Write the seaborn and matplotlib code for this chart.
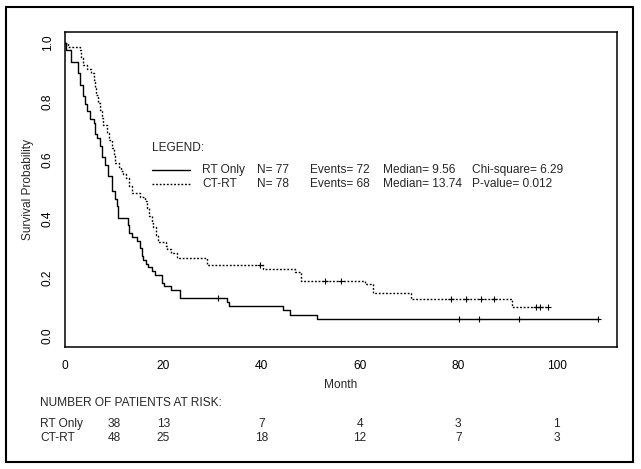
import numpy as np
import pandas as pd
import matplotlib
matplotlib.use("Agg")
import matplotlib.pyplot as plt
from matplotlib.patches import Rectangle
from matplotlib.lines import Line2D
import seaborn as sns

# ---------------- data ----------------
rt_time = [0, 0.2, 1.2, 2.6, 3.0, 3.6, 4.1, 4.4, 5.1, 5.8, 6.1, 6.6, 7.1, 7.5, 8.1, 8.8,
           9.6, 10.2, 10.5, 10.8, 12.8, 13.0, 13.6, 14.6, 15.3, 15.6, 15.9, 16.5, 16.9,
           17.6, 18.3, 19.8, 20.1, 21.5, 23.4, 32.9, 33.3, 44.3, 45.7, 51.2]
rt_surv = [1.0, 0.974, 0.935, 0.896, 0.857, 0.818, 0.792, 0.766, 0.740, 0.727, 0.688,
           0.675, 0.649, 0.610, 0.584, 0.545, 0.494, 0.468, 0.442, 0.403, 0.377, 0.351,
           0.338, 0.325, 0.299, 0.273, 0.260, 0.247, 0.234, 0.221, 0.208, 0.182, 0.169,
           0.156, 0.130, 0.117, 0.101, 0.088, 0.073, 0.058]
rt_end = 108.5
rt_censor = [31.2, 80.1, 84.2, 92.3, 108.5]

ct_time = [0, 0.7, 3.0, 3.3, 3.7, 4.4, 5.2, 5.8, 6.1, 6.4, 6.8, 7.1, 7.5, 7.8, 8.6, 9.0,
           9.5, 9.9, 10.2, 10.9, 11.4, 11.9, 12.5, 13.0, 13.7, 15.3, 16.3, 16.6, 17.0,
           17.6, 18.0, 18.5, 19.0, 20.5, 20.7, 21.5, 22.8, 28.8, 40.3, 46.8, 48.0, 61.0,
           62.7, 70.4, 91.0]
ct_surv = [1.0, 0.987, 0.974, 0.949, 0.923, 0.910, 0.897, 0.872, 0.846, 0.820, 0.795,
           0.769, 0.744, 0.718, 0.692, 0.667, 0.641, 0.615, 0.590, 0.577, 0.564, 0.551,
           0.538, 0.513, 0.487, 0.474, 0.461, 0.436, 0.410, 0.385, 0.372, 0.346, 0.321,
           0.308, 0.295, 0.282, 0.265, 0.243, 0.230, 0.217, 0.189, 0.176, 0.145, 0.127,
           0.098]
ct_end = 98.3
ct_censor = [39.7, 52.9, 56.1, 78.5, 81.5, 84.6, 87.2, 95.9, 96.6, 98.3]

groups = ["RT Only", "CT-RT"]
legend_n = ["N= 77", "N= 78"]
legend_events = ["Events= 72", "Events= 68"]
legend_median = ["Median= 9.56", "Median= 13.74"]
legend_stat = ["Chi-square= 6.29", "P-value= 0.012"]

risk_months = [10, 20, 40, 60, 80, 100]
rt_risk = [38, 13, 7, 4, 3, 1]
ct_risk = [48, 25, 18, 12, 7, 3]

x_ticks = [0, 20, 40, 60, 80, 100]
y_ticks = [0.0, 0.2, 0.4, 0.6, 0.8, 1.0]

# ---------------- build tables ----------------
def curve(times, surv, end, name):
    t = list(times) + [end]
    s = list(surv) + [surv[-1]]
    return pd.DataFrame({"month": t, "surv": s, "group": name})

def censor_df(times, steps, surv, cens, name):
    idx = np.searchsorted(np.array(steps), np.array(cens), side="right") - 1
    return pd.DataFrame({"month": cens, "surv": np.array(surv)[idx], "group": name})

lines = pd.concat([curve(rt_time, rt_surv, rt_end, groups[0]),
                   curve(ct_time, ct_surv, ct_end, groups[1])], ignore_index=True)
marks = pd.concat([censor_df(None, rt_time, rt_surv, rt_censor, groups[0]),
                   censor_df(None, ct_time, ct_surv, ct_censor, groups[1])], ignore_index=True)

# ---------------- style ----------------
sns.set_style("white")
plt.rcParams["font.family"] = ["Liberation Sans", "DejaVu Sans"]
plt.rcParams["font.size"] = 8.6

W, H = 641, 469
fig = plt.figure(figsize=(W / 100, H / 100), dpi=100)
fx = lambda px: px / W
fy = lambda py: 1 - py / H

ax_l, ax_r, ax_t, ax_b = 65, 617, 32, 347
ax = fig.add_axes([fx(ax_l), fy(ax_b), (ax_r - ax_l) / W, (ax_b - ax_t) / H])

palette = {groups[0]: "black", groups[1]: "black"}
dashes = {groups[0]: "", groups[1]: (1.3, 1.3)}
sns.lineplot(data=lines, x="month", y="surv", hue="group", style="group",
             palette=palette, dashes=dashes, estimator=None, sort=False,
             drawstyle="steps-post", linewidth=1.0, legend=False, ax=ax)
sns.scatterplot(data=marks, x="month", y="surv", marker="+", color="black",
                s=22, linewidth=0.8, legend=False, ax=ax)

ax.set_xlim(0, 112.3)
ax.set_ylim(-0.0375, 1.0365)
ax.set_xticks(x_ticks)
ax.set_xticklabels([str(v) for v in x_ticks])
ax.set_yticks(y_ticks)
ax.set_yticklabels([f"{v:.1f}" for v in y_ticks], rotation=90, va="center")
ax.tick_params(axis="both", direction="out", length=2.5, width=0.8,
               labelsize=8.6, colors="black")
ax.tick_params(axis="x", pad=7)
ax.tick_params(axis="y", pad=5.5)
for sp in ax.spines.values():
    sp.set_visible(True)
    sp.set_color("black")
    sp.set_linewidth(1.1)

ax.set_xlabel("")
ax.set_ylabel("")
fig.text(fx((ax_l + ax_r) / 2), fy(385), "Month", ha="center", va="center", fontsize=8.6)
fig.text(fx(28), fy((ax_t + ax_b) / 2), "Survival Probability", rotation=90,
         ha="center", va="center", fontsize=8.6)

# ---------------- legend block ----------------
fig.text(fx(152), fy(148), "LEGEND:", ha="left", va="center", fontsize=8.6)
row_y = [170, 183.5]
for i in range(2):
    y = fy(row_y[i])
    ln = Line2D([fx(152), fx(190)], [y, y], transform=fig.transFigure, color="black",
                linewidth=1.0, linestyle="-" if i == 0 else (0, (1.3, 1.3)))
    fig.add_artist(ln)
    fig.text(fx(202), y, groups[i], ha="left", va="center", fontsize=8.6)
    fig.text(fx(257), y, legend_n[i], ha="left", va="center", fontsize=8.6)
    fig.text(fx(310), y, legend_events[i], ha="left", va="center", fontsize=8.6)
    fig.text(fx(383), y, legend_median[i], ha="left", va="center", fontsize=8.6)
    fig.text(fx(472), y, legend_stat[i], ha="left", va="center", fontsize=8.6)

# ---------------- risk table ----------------
fig.text(fx(40), fy(403), "NUMBER OF PATIENTS AT RISK:", ha="left", va="center", fontsize=8.6)
risk_rows = [(groups[0], rt_risk, 424), (groups[1], ct_risk, 437.5)]
for name, vals, py in risk_rows:
    fig.text(fx(40), fy(py), name, ha="left", va="center", fontsize=8.6)
    for m, v in zip(risk_months, vals):
        xf = ax.transData.transform((m, 0))[0] / fig.bbox.width
        fig.text(xf, fy(py), str(v), ha="center", va="center", fontsize=8.6)

# ---------------- outer frame ----------------
fig.add_artist(Rectangle((fx(6), fy(462)), (633 - 6) / W, (462 - 7) / H,
                         transform=fig.transFigure, fill=False, edgecolor="black",
                         linewidth=1.5))

fig.savefig("out.png", dpi=100)
